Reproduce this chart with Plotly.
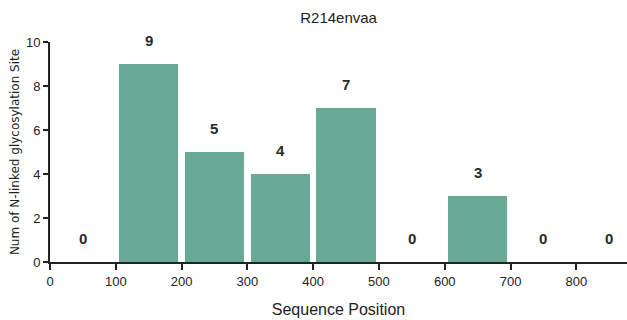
import plotly.graph_objects as go

# N-linked glycosylation sites counted per 100-residue window
bin_centers = [50, 150, 250, 350, 450, 550, 650, 750, 850]
site_counts = [0, 9, 5, 4, 7, 0, 3, 0, 0]
x_ticks = [0, 100, 200, 300, 400, 500, 600, 700, 800]
y_ticks = [0, 2, 4, 6, 8, 10]

bar_color = "#68a996"
font_family = "Liberation Sans, Arial, sans-serif"
wide_family = "DejaVu Sans, sans-serif"
ink = "#222222"

fig = go.Figure(
    go.Bar(
        x=bin_centers,
        y=site_counts,
        width=90,
        marker=dict(color=bar_color, line=dict(width=0)),
        hoverinfo="x+y",
    )
)

# count labels above each window
for xc, cnt in zip(bin_centers, site_counts):
    fig.add_annotation(
        x=xc, y=cnt, text=f"<b>{cnt}</b>", showarrow=False,
        yanchor="bottom", yshift=13,
        font=dict(family=font_family, size=15, color="#2a2a2a"),
    )

fig.update_layout(
    width=627, height=320,
    margin=dict(l=50, r=0, t=42, b=58),
    paper_bgcolor="white", plot_bgcolor="white",
    showlegend=False,
    bargap=0,
    title=dict(
        text="R214envaa", x=0.54, xanchor="center", y=0.945, yanchor="middle",
        font=dict(family=font_family, size=15, color=ink),
    ),
    xaxis=dict(
        range=[0, 877], tickvals=x_ticks, showgrid=False, zeroline=False,
        showline=True, linecolor=ink, linewidth=2,
        ticks="outside", ticklen=6, tickwidth=1.5, tickcolor=ink,
        tickfont=dict(family=font_family, size=13, color=ink),
        title=dict(text="Sequence Position", standoff=16,
                   font=dict(family=font_family, size=16, color=ink)),
    ),
    yaxis=dict(
        range=[0, 10], tickvals=y_ticks, showgrid=False, zeroline=False,
        showline=True, linecolor=ink, linewidth=2,
        ticks="outside", ticklen=5, tickwidth=1.5, tickcolor=ink,
        tickfont=dict(family=font_family, size=13, color=ink),
        title=dict(text="Num of N-linked glycosylation Site", standoff=4,
                   font=dict(family=wide_family, size=12, color=ink)),
    ),
)

fig.write_html("out.html")
